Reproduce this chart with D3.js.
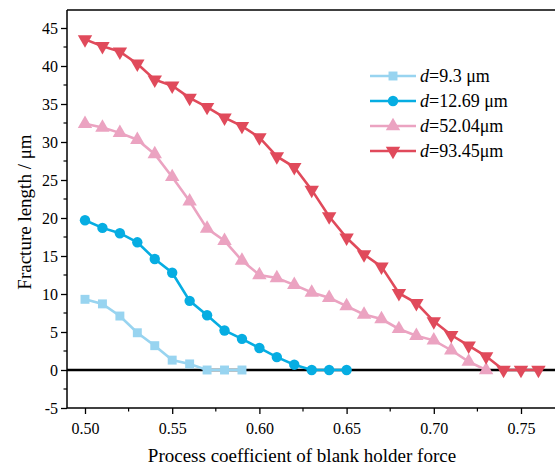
<!DOCTYPE html>
<html><head><meta charset="utf-8">
<script src="https://cdn.jsdelivr.net/npm/d3@7"></script>
<style>body{margin:0;background:#fff}svg{display:block}text{font-family:"Liberation Serif","Times New Roman",serif}</style>
</head><body><svg id="c" width="555" height="466"></svg>
<script>
const xs1 = [0.50,0.51,0.52,0.53,0.54,0.55,0.56,0.57,0.58,0.59];
const d93 = [9.3,8.7,7.1,4.9,3.2,1.3,0.8,0,0,0];
const xs2 = [0.50,0.51,0.52,0.53,0.54,0.55,0.56,0.57,0.58,0.59,0.60,0.61,0.62,0.63,0.64,0.65];
const d1269 = [19.7,18.7,18.0,16.8,14.6,12.8,9.1,7.2,5.2,4.1,2.9,1.7,0.7,0,0,0];
const xs3 = [0.50,0.51,0.52,0.53,0.54,0.55,0.56,0.57,0.58,0.59,0.60,0.61,0.62,0.63,0.64,0.65,0.66,0.67,0.68,0.69,0.70,0.71,0.72,0.73];
const d5204 = [32.4,31.9,31.2,30.3,28.4,25.4,22.2,18.6,17.0,14.4,12.5,12.1,11.2,10.2,9.5,8.4,7.3,6.7,5.4,4.5,3.9,2.6,1.1,0];
const xs4 = [0.50,0.51,0.52,0.53,0.54,0.55,0.56,0.57,0.58,0.59,0.60,0.61,0.62,0.63,0.64,0.65,0.66,0.67,0.68,0.69,0.70,0.71,0.72,0.73,0.74,0.75,0.76];
const d9345 = [43.5,42.6,41.9,40.3,38.2,37.4,35.8,34.6,33.2,32.1,30.6,28.1,26.7,23.7,20.2,17.4,15.2,13.6,10.1,8.8,6.4,4.6,3.2,1.8,0,0,0];
const labels = ["=9.3 μm","=12.69 μm","=52.04μm","=93.45μm"];
const xTicks = [0.50,0.55,0.60,0.65,0.70,0.75];
const yTicks = [-5,0,5,10,15,20,25,30,35,40,45];

const colors = ["#98d4f0","#06ade2","#eba3c1","#e04a5b"];
const symbols = [d3.symbolSquare, d3.symbolCircle, d3.symbolTriangle, d3.symbolTriangle];
const symSize = [80, 85, 90, 90];
const rot = [0,0,0,180];
const series = [[xs1,d93],[xs2,d1269],[xs3,d5204],[xs4,d9345]];

const svg = d3.select("#c");
const x = d3.scaleLinear().domain([0.50,0.75]).range([85,521]);
const y = d3.scaleLinear().domain([0,45]).range([370,28]);
const L = 67, R = 555, T = 10, B = 408;

// frame top
svg.append("line").attr("x1",L).attr("x2",R).attr("y1",T).attr("y2",T).attr("stroke","#000").attr("stroke-width",1.5);

// x axis
const gx = svg.append("g").attr("transform",`translate(0,${B})`);
gx.append("line").attr("x1",L).attr("x2",R).attr("stroke","#000").attr("stroke-width",1.5);
gx.call(d3.axisBottom(x).tickValues(xTicks).tickFormat(d3.format(".2f")).tickSize(6).tickSizeOuter(0));
gx.select(".domain").remove();
gx.selectAll(".tick line").attr("stroke-width",1.3);
gx.selectAll("text").attr("font-size",16).attr("dy","1.05em").attr("fill","#000");
gx.selectAll(".minor").data(d3.range(0.525,0.775,0.05)).enter().append("line")
  .attr("x1",d=>x(d)).attr("x2",d=>x(d)).attr("y1",0).attr("y2",3.5).attr("stroke","#000").attr("stroke-width",1.2);

// y axis
const gy = svg.append("g").attr("transform",`translate(${L},0)`);
gy.append("line").attr("y1",T).attr("y2",B).attr("stroke","#000").attr("stroke-width",1.5);
gy.call(d3.axisLeft(y).tickValues(yTicks).tickFormat(d=>String(d)).tickSize(6).tickSizeOuter(0));
gy.select(".domain").remove();
gy.selectAll(".tick line").attr("stroke-width",1.3);
gy.selectAll("text").attr("font-size",16).attr("fill","#000").attr("x",-9);
gy.selectAll(".minor").data(d3.range(-2.5,47.5,5)).enter().append("line")
  .attr("y1",d=>y(d)).attr("y2",d=>y(d)).attr("x1",0).attr("x2",-3.5).attr("stroke","#000").attr("stroke-width",1.2);

// zero line
svg.append("line").attr("x1",L).attr("x2",R).attr("y1",y(0)).attr("y2",y(0)).attr("stroke","#000").attr("stroke-width",2.5);

// series
const line = d3.line();
series.forEach(([xs,vs],i)=>{
  const pts = xs.map((v,j)=>[x(v),y(vs[j])]);
  svg.append("path").attr("d",line(pts)).attr("fill","none").attr("stroke",colors[i]).attr("stroke-width",2.6);
  svg.append("g").selectAll("path").data(pts).enter().append("path")
    .attr("d",d3.symbol().type(symbols[i]).size(symSize[i]))
    .attr("transform",d=>`translate(${d[0]},${d[1]}) rotate(${rot[i]})`)
    .attr("fill",colors[i]);
});

// legend
const lg = svg.append("g");
labels.forEach((t,i)=>{
  const yy = 76 + i*25;
  lg.append("line").attr("x1",370).attr("x2",416).attr("y1",yy).attr("y2",yy).attr("stroke",colors[i]).attr("stroke-width",2.6);
  lg.append("path").attr("d",d3.symbol().type(symbols[i]).size(symSize[i])())
    .attr("transform",`translate(393,${yy}) rotate(${rot[i]})`).attr("fill",colors[i]);
  const tx = lg.append("text").attr("x",420).attr("y",yy).attr("dy","0.35em").attr("font-size",18).attr("fill","#000");
  tx.append("tspan").attr("font-style","italic").text("d");
  tx.append("tspan").text(t);
});

// axis titles
svg.append("text").attr("x",302).attr("y",462).attr("text-anchor","middle").attr("font-size",19).text("Process coefficient of blank holder force");
svg.append("text").attr("transform","translate(31,212) rotate(-90)").attr("text-anchor","middle").attr("font-size",19).text("Fracture length / μm");
</script></body></html>
